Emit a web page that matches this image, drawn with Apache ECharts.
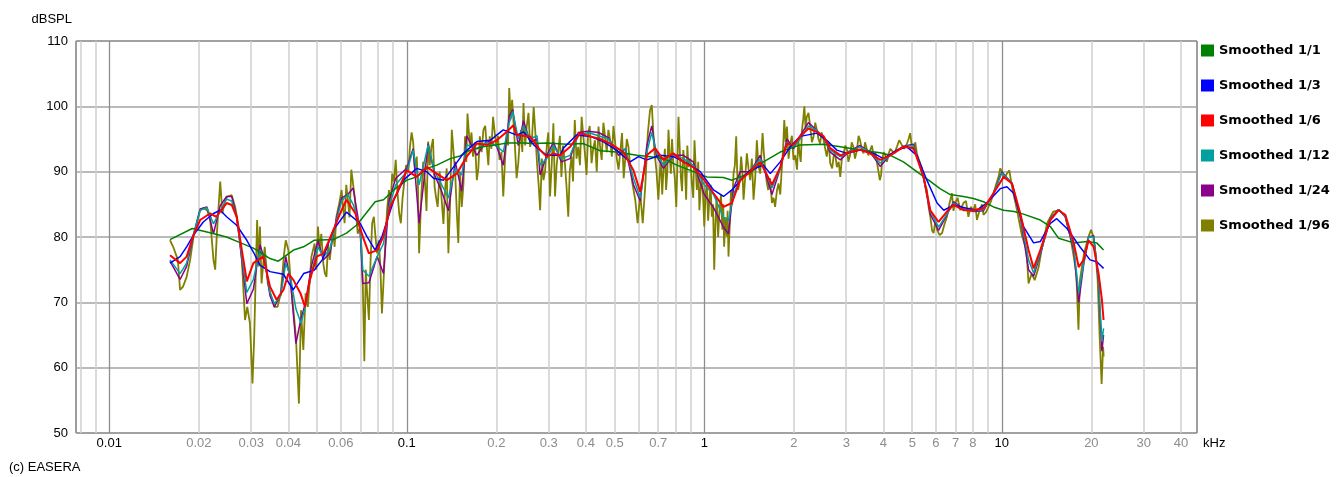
<!DOCTYPE html>
<html>
<head>
<meta charset="utf-8">
<script src="https://cdn.jsdelivr.net/npm/echarts@6/dist/echarts.min.js"></script>
<style>
  html, body { margin: 0; padding: 0; background: #fff; }
  #chart { width: 1336px; height: 477px; }
</style>
</head>
<body>
<div id="chart"></div>
<script>
// [kHz, dBSPL] pairs read from the measurement
const smooth1_1 = [
  [0.016, 79.6], [0.019, 81.3], [0.022, 80.6], [0.0248, 80.0], [0.027, 79.3], [0.0305, 78.3],
  [0.0321, 77.7], [0.0347, 76.7], [0.037, 76.3], [0.0416, 78.0], [0.045, 78.5], [0.0488, 79.5],
  [0.0567, 79.6], [0.0627, 80.6], [0.0677, 81.8], [0.0697, 82.5], [0.0783, 85.4], [0.0835, 85.7],
  [0.0905, 87.2], [0.1, 88.7], [0.108, 89.2], [0.1168, 90.5], [0.1261, 91.0], [0.14, 92.0],
  [0.151, 92.4], [0.163, 93.3], [0.18, 93.8], [0.2, 94.1], [0.217, 94.4], [0.247, 94.4],
  [0.267, 94.3], [0.295, 94.4], [0.345, 94.2], [0.392, 94.3], [0.447, 93.2], [0.507, 93.0],
  [0.594, 92.5], [0.66, 92.3], [0.729, 92.0], [0.809, 91.0], [0.897, 90.2], [1.02, 89.2],
  [1.16, 89.1], [1.238, 88.7], [1.427, 89.8], [1.58, 91.5], [1.8, 93.0], [2.1, 94.1],
  [2.52, 94.2], [2.865, 93.8], [3.34, 93.3], [3.9, 92.9], [4.22, 92.5], [4.67, 91.5],
  [5.18, 90.0], [5.75, 88.5], [6.2, 87.4], [6.71, 86.5], [7.43, 86.2], [8.03, 85.9],
  [8.68, 85.4], [9.38, 84.6], [10.14, 84.1], [11.0, 83.9], [11.83, 83.5], [13.47, 82.6],
  [14.56, 81.6], [15.52, 79.8], [17.45, 79.1], [19.35, 79.3], [20.85, 79.1], [21.98, 78.0]
];

const smooth1_3 = [
  [0.016, 76.0], [0.0173, 77.0], [0.0182, 78.5], [0.0192, 80.3], [0.0207, 82.3], [0.0224, 83.6],
  [0.0236, 84.1], [0.0248, 83.1], [0.0268, 81.8], [0.029, 79.5], [0.0305, 77.7], [0.0321, 75.7],
  [0.0347, 74.7], [0.0385, 74.3], [0.0415, 71.9], [0.045, 74.4], [0.0488, 74.9], [0.052, 76.5],
  [0.0567, 81.1], [0.0627, 83.8], [0.0697, 82.1], [0.0734, 80.1], [0.0783, 78.0], [0.0826, 80.1],
  [0.086, 82.6], [0.0905, 85.7], [0.0975, 88.7], [0.108, 90.5], [0.1168, 90.0], [0.123, 89.0],
  [0.133, 88.7], [0.1435, 90.7], [0.155, 92.8], [0.172, 94.6], [0.1907, 94.8], [0.211, 96.4],
  [0.2343, 95.6], [0.2468, 96.1], [0.267, 94.1], [0.2954, 92.5], [0.3277, 92.5], [0.336, 93.6],
  [0.372, 95.6], [0.4135, 95.4], [0.457, 94.6], [0.507, 93.3], [0.563, 91.5], [0.601, 92.3],
  [0.641, 91.8], [0.711, 92.5], [0.787, 92.3], [0.874, 91.3], [0.969, 90.0], [1.074, 87.2],
  [1.16, 86.2], [1.238, 87.2], [1.355, 89.2], [1.427, 90.2], [1.58, 91.0], [1.667, 89.7],
  [1.8, 91.5], [1.945, 93.8], [2.1, 95.4], [2.39, 95.9], [2.58, 94.8], [2.79, 93.3],
  [3.02, 92.8], [3.34, 93.3], [3.71, 92.8], [4.0, 92.0], [4.44, 93.3], [4.8, 93.8],
  [5.18, 92.5], [5.6, 88.7], [6.06, 85.2], [6.38, 84.1], [6.71, 84.6], [6.88, 84.9],
  [7.62, 84.4], [8.24, 84.1], [8.9, 85.2], [9.88, 87.4], [10.4, 87.7], [10.96, 86.7],
  [11.83, 81.6], [12.79, 79.1], [13.47, 79.3], [14.56, 82.1], [15.3, 82.8], [16.56, 81.3],
  [18.3, 78.5], [19.8, 76.5], [20.85, 76.2], [21.98, 75.2]
];

const smooth1_6 = [
  [0.016, 77.2], [0.0173, 76.0], [0.0182, 77.0], [0.0192, 80.3], [0.0202, 82.6], [0.0218, 83.6],
  [0.0229, 83.1], [0.0248, 85.2], [0.0258, 84.9], [0.0268, 83.1], [0.0279, 78.0], [0.029, 73.2],
  [0.0305, 76.0], [0.0329, 77.0], [0.0347, 72.4], [0.0365, 70.4], [0.0385, 71.9], [0.04, 74.4],
  [0.0416, 73.4], [0.0439, 71.4], [0.0455, 69.3], [0.0472, 73.4], [0.0498, 77.0], [0.0525, 77.5],
  [0.0567, 81.1], [0.0597, 83.6], [0.0627, 85.7], [0.0672, 83.6], [0.0711, 80.1], [0.0746, 77.5],
  [0.0796, 78.0], [0.0835, 80.1], [0.0879, 84.6], [0.0926, 86.7], [0.1, 90.2], [0.108, 89.2],
  [0.1168, 90.7], [0.1261, 89.7], [0.1363, 88.7], [0.1473, 89.7], [0.159, 92.3], [0.172, 94.3],
  [0.1858, 94.1], [0.2007, 94.8], [0.2169, 96.1], [0.2282, 97.1], [0.2343, 95.6], [0.2598, 95.4],
  [0.2807, 93.3], [0.2954, 92.3], [0.311, 92.8], [0.328, 92.5], [0.354, 93.8], [0.383, 95.9],
  [0.414, 95.4], [0.447, 95.0], [0.483, 94.3], [0.535, 93.0], [0.578, 90.2], [0.609, 86.9],
  [0.641, 92.5], [0.683, 93.6], [0.728, 91.8], [0.787, 92.8], [0.85, 91.5], [0.918, 90.7],
  [1.0, 88.7], [1.074, 86.7], [1.16, 84.6], [1.238, 85.2], [1.32, 88.7], [1.427, 90.0],
  [1.541, 91.5], [1.624, 89.5], [1.688, 88.0], [1.8, 90.7], [1.896, 94.3], [1.995, 94.1],
  [2.1, 95.4], [2.24, 96.6], [2.39, 96.1], [2.52, 95.4], [2.65, 93.6], [2.865, 92.5],
  [3.09, 93.0], [3.34, 93.4], [3.61, 92.8], [3.9, 91.8], [4.22, 92.5], [4.67, 93.8],
  [5.05, 93.6], [5.46, 89.2], [5.75, 84.1], [6.13, 82.3], [6.54, 83.9], [6.88, 84.9],
  [7.43, 84.1], [8.03, 84.1], [8.68, 84.4], [9.38, 86.7], [10.14, 89.2], [10.82, 88.2],
  [11.54, 83.6], [12.3, 78.0], [12.79, 75.2], [13.47, 78.0], [14.56, 82.6], [15.52, 84.1],
  [16.35, 83.4], [17.45, 79.1], [18.13, 75.4], [18.85, 76.5], [19.58, 79.5], [20.36, 78.5],
  [21.15, 74.4], [21.7, 70.4], [21.98, 67.3]
];

const smooth1_12 = [
  [0.016, 76.5], [0.0173, 74.4], [0.0182, 76.0], [0.0192, 80.5], [0.0202, 84.1], [0.0213, 84.5],
  [0.0224, 82.0], [0.0236, 84.0], [0.0248, 85.8], [0.0258, 85.5], [0.0268, 83.0], [0.0279, 77.0],
  [0.029, 71.5], [0.0305, 73.5], [0.0321, 78.0], [0.0333, 76.5], [0.0347, 71.5], [0.0359, 69.8],
  [0.0377, 71.0], [0.0392, 76.0], [0.0406, 74.0], [0.0424, 69.0], [0.0441, 66.8], [0.0457, 69.5],
  [0.0478, 74.5], [0.0503, 78.5], [0.0524, 77.0], [0.0551, 78.0], [0.058, 82.5], [0.0604, 85.5],
  [0.0634, 86.5], [0.066, 85.0], [0.0697, 81.5], [0.0711, 75.0], [0.0746, 74.0], [0.0795, 77.0],
  [0.0835, 79.0], [0.0871, 84.5], [0.0918, 88.0], [0.1, 90.0], [0.105, 93.3], [0.11, 88.0],
  [0.118, 94.1], [0.124, 90.0], [0.131, 88.0], [0.138, 86.0], [0.1455, 90.5], [0.153, 89.5],
  [0.159, 94.1], [0.172, 93.5], [0.1858, 94.5], [0.2, 94.0], [0.211, 93.0], [0.221, 97.5],
  [0.227, 99.2], [0.237, 95.0], [0.2468, 97.0], [0.2598, 95.0], [0.274, 95.5], [0.2807, 91.0],
  [0.2954, 92.0], [0.311, 94.0], [0.331, 92.0], [0.354, 92.5], [0.377, 95.5], [0.407, 96.0],
  [0.441, 95.5], [0.476, 95.0], [0.515, 93.0], [0.543, 93.5], [0.578, 89.0], [0.609, 86.0],
  [0.641, 93.0], [0.666, 96.0], [0.69, 93.0], [0.729, 91.0], [0.787, 92.5], [0.85, 92.0],
  [0.918, 91.0], [1.0, 88.0], [1.074, 86.5], [1.16, 83.0], [1.206, 82.5], [1.254, 86.5],
  [1.32, 89.0], [1.427, 90.0], [1.541, 92.0], [1.624, 89.5], [1.688, 87.5], [1.8, 90.5],
  [1.896, 94.5], [1.995, 93.8], [2.1, 95.0], [2.24, 97.0], [2.39, 96.3], [2.52, 95.3],
  [2.65, 93.3], [2.865, 92.3], [3.09, 93.2], [3.34, 93.8], [3.61, 93.0], [3.9, 91.3],
  [4.22, 92.5], [4.67, 93.8], [5.05, 94.0], [5.46, 89.0], [5.75, 84.0], [6.13, 81.5],
  [6.54, 83.5], [6.88, 85.2], [7.43, 84.2], [8.03, 84.0], [8.68, 84.2], [9.38, 86.7],
  [10.0, 89.8], [10.82, 88.3], [11.54, 83.2], [12.3, 76.5], [12.79, 74.5], [13.47, 77.5],
  [14.56, 82.8], [15.52, 84.2], [16.35, 83.2], [17.45, 78.5], [18.13, 71.5], [18.85, 76.0],
  [19.58, 80.0], [20.36, 80.0], [21.15, 73.5], [21.7, 64.0], [21.98, 66.0]
];

const smooth1_24 = [
  [0.016, 76.3], [0.0173, 73.5], [0.0182, 75.5], [0.0192, 80.3], [0.0202, 84.3], [0.0213, 84.6],
  [0.0224, 80.5], [0.0236, 84.8], [0.0248, 86.2], [0.0258, 86.2], [0.0268, 83.2], [0.0279, 76.5],
  [0.029, 69.8], [0.0305, 72.0], [0.0321, 78.8], [0.0333, 76.5], [0.0347, 71.0], [0.0359, 69.3],
  [0.0377, 71.2], [0.0392, 77.0], [0.0406, 73.5], [0.0424, 63.7], [0.0441, 67.5], [0.0457, 70.0],
  [0.0478, 75.5], [0.0503, 79.5], [0.0524, 76.5], [0.0551, 77.5], [0.058, 82.8], [0.0604, 86.0],
  [0.0634, 86.5], [0.066, 87.5], [0.0697, 81.0], [0.0711, 72.9], [0.0746, 73.0], [0.0795, 77.0],
  [0.0835, 74.4], [0.0871, 85.5], [0.0918, 89.0], [0.1, 90.5], [0.105, 93.5], [0.11, 82.1],
  [0.118, 94.3], [0.124, 89.5], [0.131, 87.0], [0.138, 84.0], [0.1455, 91.5], [0.153, 87.0],
  [0.159, 95.5], [0.172, 92.5], [0.1858, 94.8], [0.2, 94.0], [0.211, 91.0], [0.221, 98.5],
  [0.227, 99.5], [0.237, 94.0], [0.2468, 97.8], [0.2598, 94.5], [0.274, 95.0], [0.2807, 89.5],
  [0.2954, 92.5], [0.311, 94.5], [0.331, 91.5], [0.354, 92.0], [0.377, 96.0], [0.407, 96.2],
  [0.441, 96.0], [0.476, 95.2], [0.515, 92.5], [0.543, 93.5], [0.578, 88.0], [0.609, 85.5],
  [0.641, 94.0], [0.666, 97.0], [0.69, 92.5], [0.729, 90.5], [0.787, 92.5], [0.85, 92.5],
  [0.918, 91.5], [1.0, 86.5], [1.074, 84.5], [1.16, 81.5], [1.206, 80.5], [1.254, 87.5],
  [1.32, 90.0], [1.427, 90.0], [1.541, 92.5], [1.624, 89.0], [1.688, 86.5], [1.8, 90.5],
  [1.896, 95.0], [1.995, 93.5], [2.1, 95.5], [2.24, 97.5], [2.39, 96.3], [2.52, 95.2],
  [2.65, 93.0], [2.865, 91.8], [3.09, 93.2], [3.34, 94.0], [3.61, 93.0], [3.9, 90.8],
  [4.22, 92.6], [4.67, 93.9], [5.05, 94.2], [5.46, 89.0], [5.75, 83.5], [6.13, 81.0],
  [6.54, 83.4], [6.88, 85.4], [7.43, 84.3], [8.03, 83.9], [8.68, 84.0], [9.38, 86.7],
  [10.0, 90.0], [10.82, 88.2], [11.54, 83.0], [12.3, 75.0], [12.79, 74.0], [13.47, 77.3],
  [14.56, 82.9], [15.52, 84.2], [16.35, 83.1], [17.45, 78.0], [18.13, 70.0], [18.85, 75.8],
  [19.58, 80.0], [20.36, 80.2], [21.15, 73.0], [21.7, 62.5], [21.98, 65.0]
];

const smooth1_96 = [
  [0.016, 79.5], [0.0164, 78.5], [0.017, 76.5], [0.0173, 71.9], [0.0177, 72.4], [0.0182, 73.9],
  [0.0187, 76.5], [0.0192, 80.1], [0.0197, 82.1], [0.0202, 84.1], [0.0207, 84.4], [0.0213, 84.1],
  [0.0218, 83.1], [0.0224, 76.5], [0.0227, 75.0], [0.023, 80.6], [0.0236, 88.5], [0.024, 83.6],
  [0.0245, 85.7], [0.025, 86.2], [0.0258, 86.4], [0.0265, 84.6], [0.0272, 81.6], [0.0279, 76.5],
  [0.0286, 67.3], [0.0291, 69.3], [0.0297, 66.8], [0.0303, 57.6], [0.0307, 64.7], [0.0314, 82.6],
  [0.0318, 75.5], [0.0321, 81.6], [0.0325, 72.9], [0.0333, 78.5], [0.0341, 72.9], [0.035, 70.9],
  [0.0359, 69.3], [0.0368, 69.3], [0.0377, 71.4], [0.0387, 77.5], [0.0392, 79.5], [0.04, 78.0],
  [0.0406, 73.9], [0.0417, 68.3], [0.0424, 64.7], [0.0434, 54.5], [0.0441, 68.8], [0.0449, 62.7],
  [0.0457, 71.4], [0.0465, 69.3], [0.0478, 77.0], [0.049, 79.0], [0.0503, 81.6], [0.0509, 78.0],
  [0.0524, 76.0], [0.0537, 73.9], [0.0551, 76.5], [0.0565, 81.1], [0.058, 83.1], [0.0604, 87.2],
  [0.0618, 82.1], [0.0634, 85.7], [0.0651, 90.3], [0.0668, 86.2], [0.0684, 80.5], [0.0697, 81.6],
  [0.0711, 73.4], [0.072, 61.0], [0.0737, 70.9], [0.0746, 67.3], [0.0765, 82.1], [0.0775, 83.1],
  [0.0795, 77.5], [0.0815, 75.5], [0.0825, 68.3], [0.0846, 78.5], [0.0871, 87.2], [0.0893, 89.7],
  [0.0918, 91.8], [0.0943, 83.6], [0.0955, 82.1], [0.0982, 88.7], [0.1025, 93.8], [0.105, 94.6],
  [0.108, 92.3], [0.11, 77.5], [0.112, 86.7], [0.115, 88.7], [0.118, 94.6], [0.121, 93.8],
  [0.124, 87.7], [0.127, 84.6], [0.131, 85.7], [0.1345, 87.2], [0.138, 77.5], [0.1417, 96.4],
  [0.1455, 89.7], [0.149, 79.1], [0.153, 84.6], [0.157, 95.4], [0.16, 98.9], [0.163, 93.8],
  [0.167, 92.3], [0.172, 88.7], [0.176, 95.4], [0.181, 96.4], [0.1858, 93.8], [0.19, 95.4],
  [0.195, 98.4], [0.2, 93.8], [0.205, 91.8], [0.211, 86.2], [0.217, 96.4], [0.221, 102.8],
  [0.226, 101.0], [0.231, 93.8], [0.237, 91.3], [0.242, 96.4], [0.2468, 100.5], [0.253, 96.9],
  [0.2598, 93.8], [0.267, 99.9], [0.274, 91.3], [0.2807, 84.1], [0.288, 88.7], [0.2954, 93.8],
  [0.303, 86.2], [0.311, 97.4], [0.315, 86.2], [0.323, 93.3], [0.331, 89.2], [0.34, 91.3],
  [0.349, 83.1], [0.358, 92.3], [0.367, 97.9], [0.377, 93.8], [0.387, 98.4], [0.397, 92.8],
  [0.407, 95.9], [0.418, 91.3], [0.429, 94.8], [0.441, 96.9], [0.452, 91.8], [0.464, 95.4],
  [0.476, 96.4], [0.489, 92.3], [0.502, 94.3], [0.515, 90.3], [0.529, 95.9], [0.543, 92.3],
  [0.556, 93.8], [0.571, 88.7], [0.586, 85.7], [0.597, 82.1], [0.609, 86.7], [0.621, 82.1],
  [0.633, 87.7], [0.646, 95.9], [0.657, 99.4], [0.666, 100.2], [0.679, 93.3], [0.69, 90.3],
  [0.701, 85.7], [0.714, 92.3], [0.729, 90.3], [0.744, 87.2], [0.758, 96.4], [0.772, 89.7],
  [0.787, 91.3], [0.805, 84.6], [0.819, 98.4], [0.834, 89.2], [0.85, 93.3], [0.869, 85.7],
  [0.885, 90.7], [0.908, 88.2], [0.927, 94.8], [0.944, 87.2], [0.963, 84.1], [0.982, 89.7],
  [1.0, 81.6], [1.02, 88.2], [1.04, 85.7], [1.06, 83.1], [1.08, 75.0], [1.1, 86.2],
  [1.125, 84.1], [1.15, 81.1], [1.166, 78.5], [1.19, 80.1], [1.206, 77.0], [1.23, 87.2],
  [1.254, 89.7], [1.28, 95.4], [1.3, 87.2], [1.33, 92.3], [1.355, 85.7], [1.39, 92.8],
  [1.427, 88.7], [1.464, 85.7], [1.502, 94.8], [1.541, 89.7], [1.57, 95.9], [1.6, 90.7],
  [1.64, 87.2], [1.688, 85.2], [1.73, 84.6], [1.776, 88.2], [1.823, 90.7], [1.857, 97.9],
  [1.896, 96.9], [1.945, 94.3], [1.995, 91.8], [2.05, 90.3], [2.09, 92.8], [2.13, 96.4],
  [2.17, 100.0], [2.21, 98.4], [2.27, 96.9], [2.33, 95.4], [2.39, 96.4], [2.45, 94.3],
  [2.52, 94.8], [2.58, 92.3], [2.65, 91.3], [2.72, 92.3], [2.79, 90.7], [2.865, 89.2],
  [2.94, 92.8], [3.02, 93.3], [3.09, 92.5], [3.17, 93.8], [3.26, 93.3], [3.34, 94.8],
  [3.43, 92.8], [3.52, 94.3], [3.61, 93.3], [3.71, 92.3], [3.81, 91.3], [3.89, 88.7],
  [3.96, 91.8], [4.06, 92.5], [4.17, 92.8], [4.28, 93.3], [4.44, 93.8], [4.61, 94.1],
  [4.8, 94.3], [4.92, 95.9], [5.05, 93.3], [5.18, 92.8], [5.32, 91.8], [5.46, 89.2],
  [5.6, 87.2], [5.75, 83.1], [5.9, 80.6], [6.06, 81.1], [6.3, 80.6], [6.54, 83.1],
  [6.8, 86.7], [6.97, 85.2], [7.25, 84.1], [7.43, 85.2], [7.72, 83.1], [8.03, 84.1],
  [8.25, 82.6], [8.47, 84.4], [8.68, 83.4], [9.02, 84.6], [9.38, 86.7], [9.75, 89.2],
  [10.0, 90.0], [10.4, 89.7], [10.82, 87.7], [11.25, 84.1], [11.7, 80.1], [12.1, 78.0],
  [12.3, 72.9], [12.6, 74.4], [12.9, 73.4], [13.3, 75.4], [13.6, 78.0], [14.2, 82.1],
  [14.9, 83.9], [15.6, 84.1], [16.35, 83.1], [16.98, 80.1], [17.45, 77.0], [17.8, 74.4],
  [18.1, 65.8], [18.3, 73.4], [18.9, 77.5], [19.58, 80.1], [19.95, 81.1], [20.3, 80.1],
  [20.66, 77.5], [21.0, 73.4], [21.35, 64.2], [21.65, 57.5], [21.9, 63.2], [22.0, 61.7],
  // finer spikes read between the ones above
  [0.0496, 75.0], [0.0516, 80.5], [0.053, 74.5], [0.0544, 79.0], [0.0572, 78.5], [0.0592, 85.0],
  [0.0611, 84.5], [0.0626, 88.0], [0.0642, 83.0], [0.0705, 78.0], [0.0728, 75.0], [0.0755, 76.0],
  [0.0785, 80.0], [0.0805, 79.5], [0.0835, 73.0], [0.0858, 84.0], [0.0882, 84.5], [0.0905, 88.5],
  [0.093, 87.0], [0.0968, 86.0], [0.0995, 91.0],
  [0.1012, 90.0], [0.1038, 96.0], [0.1065, 90.5], [0.109, 88.0], [0.1135, 91.5], [0.1165, 84.0],
  [0.1195, 91.0], [0.1225, 95.0], [0.1255, 86.0], [0.129, 90.0], [0.1328, 82.0], [0.1362, 90.5],
  [0.1398, 85.0], [0.1436, 93.0], [0.1472, 84.0], [0.151, 90.0], [0.155, 88.0], [0.1585, 91.5],
  [0.165, 96.0], [0.1695, 94.5], [0.174, 90.5], [0.1785, 93.0], [0.1835, 97.0], [0.188, 91.0],
  [0.1925, 93.5], [0.1975, 96.0], [0.2025, 95.5], [0.208, 93.0], [0.214, 92.0], [0.219, 94.0],
  [0.2235, 98.0], [0.2285, 97.5], [0.234, 89.0], [0.2395, 94.5], [0.2445, 93.0], [0.25, 94.0],
  [0.2565, 99.0], [0.2635, 95.0], [0.2705, 96.0], [0.2775, 88.0], [0.2845, 92.0], [0.2915, 90.0],
  [0.299, 96.0], [0.307, 91.0],
  [0.319, 91.0], [0.327, 95.5], [0.335, 94.0], [0.344, 88.0], [0.353, 90.0], [0.362, 88.5],
  [0.372, 92.0], [0.382, 91.0], [0.392, 95.5], [0.402, 89.5], [0.412, 97.0], [0.423, 93.5],
  [0.435, 90.0], [0.446, 94.0], [0.458, 97.5], [0.47, 93.0], [0.482, 95.0], [0.495, 97.0],
  [0.508, 92.0], [0.522, 93.0], [0.536, 89.0], [0.549, 95.0], [0.563, 91.0],
  [0.707, 89.0], [0.722, 86.5], [0.737, 93.5], [0.751, 90.0], [0.765, 92.5], [0.779, 95.0],
  [0.796, 89.0], [0.812, 91.0], [0.827, 93.5], [0.842, 87.0], [0.86, 91.0], [0.877, 94.0],
  [0.897, 92.0], [0.918, 86.0], [0.936, 90.5], [0.954, 91.5], [0.973, 87.5], [0.991, 86.0],
  [1.01, 86.5], [1.03, 82.5], [1.05, 88.0], [1.07, 85.0], [1.09, 82.0], [1.113, 80.0],
  [1.138, 86.5], [1.158, 85.0], [1.178, 83.0], [1.198, 84.0], [1.218, 82.0], [1.242, 85.0],
  [1.267, 91.0], [1.29, 90.0], [1.315, 88.5], [1.343, 90.0], [1.372, 89.0], [1.408, 90.5],
  [1.445, 92.0], [1.483, 89.0], [1.52, 91.0], [1.555, 92.5], [1.585, 93.0], [1.62, 88.5],
  [1.664, 89.0], [1.71, 86.0], [1.753, 87.0], [1.8, 86.5], [1.84, 93.5], [1.877, 94.5],
  [1.92, 92.0], [1.97, 95.5], [2.02, 92.5], [2.07, 95.0], [2.11, 91.5], [2.15, 98.0],
  [2.19, 96.5], [2.24, 99.0], [2.3, 94.5], [2.36, 97.5], [2.42, 95.0], [2.48, 96.0],
  [2.55, 93.5], [2.62, 94.5], [2.69, 90.5], [2.75, 93.0], [2.83, 91.5], [2.9, 92.0],
  [2.98, 94.0], [3.05, 91.5], [3.13, 94.5], [3.21, 92.0], [3.3, 95.5], [3.38, 93.5],
  [3.47, 94.5], [3.56, 92.5], [3.66, 94.0], [3.76, 93.0], [3.85, 90.0], [3.93, 89.5],
  [4.01, 93.0], [4.11, 91.5], [4.22, 93.5], [4.36, 92.8], [4.52, 94.8], [4.7, 93.5],
  [4.86, 95.0], [4.98, 94.0], [5.12, 94.5], [5.25, 92.0], [5.39, 90.5], [5.53, 88.0],
  [5.68, 84.5], [5.83, 81.0], [5.98, 82.5], [6.18, 80.3], [6.42, 82.0], [6.66, 85.0],
  [6.88, 84.0], [7.1, 86.0], [7.34, 84.0], [7.58, 85.5], [7.86, 84.6], [8.14, 85.0],
  [8.36, 83.6], [8.58, 85.0], [8.85, 83.8], [9.2, 85.5], [9.56, 88.0], [9.88, 90.5],
  [10.2, 89.0], [10.6, 90.2]
].sort((a, b) => a[0] - b[0]);

const legendNames = ['Smoothed 1/1', 'Smoothed 1/3', 'Smoothed 1/6', 'Smoothed 1/12', 'Smoothed 1/24', 'Smoothed 1/96'];
const decadeTicks = [0.01, 0.1, 1, 10];
const minorGrid = [0.008, 0.009, 0.02, 0.03, 0.04, 0.05, 0.06, 0.07, 0.08, 0.09,
  0.2, 0.3, 0.4, 0.5, 0.6, 0.7, 0.8, 0.9, 2, 3, 4, 5, 6, 7, 8, 9, 20, 30, 40];
const minorLabels = [0.02, 0.03, 0.04, 0.06, 0.2, 0.3, 0.4, 0.5, 0.7, 2, 3, 4, 5, 6, 7, 8, 20, 30, 40];

const X_MIN = 0.00773;
const X_MAX = 45.3;
const FONT = '"Liberation Sans", Arial, sans-serif';

const fmt = v => String(+(+v).toPrecision(3));

const chart = echarts.init(document.getElementById('chart'), null, { renderer: 'canvas' });

function line(name, data, color, width) {
  return {
    name: name,
    type: 'line',
    xAxisIndex: 0,
    data: data,
    symbol: 'none',
    showSymbol: false,
    smooth: false,
    animation: false,
    itemStyle: { color: color },
    lineStyle: { color: color, width: width }
  };
}

const option = {
  animation: false,
  backgroundColor: '#ffffff',
  grid: {
    left: 76, top: 41, width: 1121, height: 392,
    show: true, borderColor: '#3c3c3c', borderWidth: 1, backgroundColor: 'transparent'
  },
  legend: {
    orient: 'vertical',
    left: 1201, top: 44, padding: 0,
    itemWidth: 13, itemHeight: 12, itemGap: 22,
    icon: 'rect',
    data: legendNames,
    textStyle: { fontFamily: '"DejaVu Sans", sans-serif', fontWeight: 'bold', fontSize: 13, color: '#000' }
  },
  xAxis: [
    {
      type: 'log', position: 'bottom', min: X_MIN, max: X_MAX,
      name: 'kHz', nameLocation: 'end', nameGap: 6,
      nameTextStyle: { fontFamily: FONT, fontSize: 13, color: '#000', verticalAlign: 'top', padding: [4, 0, 0, 0] },
      axisLine: { show: false },
      axisTick: { show: false, customValues: decadeTicks },
      axisLabel: { customValues: decadeTicks, formatter: fmt, margin: 4, fontFamily: FONT, fontSize: 13, color: '#000' },
      splitLine: { show: true, lineStyle: { color: '#8e8e8e', width: 1.3 } }
    },
    {
      type: 'log', position: 'bottom', min: X_MIN, max: X_MAX,
      axisLine: { show: false },
      axisTick: { show: false, customValues: minorGrid },
      axisLabel: { customValues: minorLabels, formatter: fmt, margin: 4, fontFamily: FONT, fontSize: 13, color: '#8c8c8c' },
      splitLine: { show: true, lineStyle: { color: '#cfcfcf', width: 1.5 } }
    }
  ],
  yAxis: {
    type: 'value', min: 50, max: 110, interval: 10,
    name: 'dBSPL', nameLocation: 'end', nameGap: 15,
    nameTextStyle: { fontFamily: FONT, fontSize: 13, color: '#000', align: 'right', padding: [0, 4, 0, 0] },
    axisLine: { show: false },
    axisTick: { show: false },
    axisLabel: { margin: 8, fontFamily: FONT, fontSize: 13, color: '#000' },
    splitLine: { show: true, lineStyle: { color: '#a3a3a3', width: 1.5 } }
  },
  graphic: [{
    type: 'text', left: 9, top: 461,
    style: { text: '(c) EASERA', font: '13px "Liberation Sans", Arial, sans-serif', fill: '#000' }
  }],
  series: [
    line('Smoothed 1/96', smooth1_96, '#808000', 1.8),
    line('Smoothed 1/24', smooth1_24, '#8b008b', 1.5),
    line('Smoothed 1/12', smooth1_12, '#00a0a0', 1.5),
    line('Smoothed 1/1', smooth1_1, '#008000', 1.5),
    line('Smoothed 1/3', smooth1_3, '#0000ff', 1.5),
    line('Smoothed 1/6', smooth1_6, '#ff0000', 2)
  ]
};

chart.setOption(option);
</script>
</body>
</html>
